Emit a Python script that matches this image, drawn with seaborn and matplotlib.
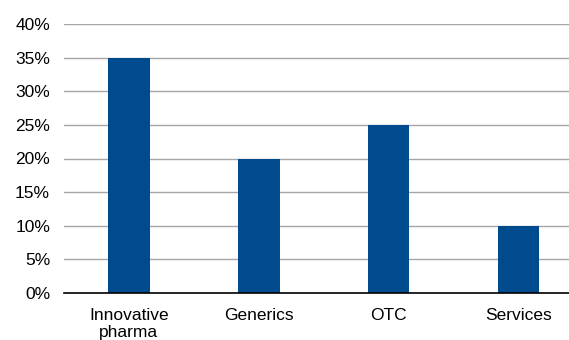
import matplotlib
matplotlib.use("Agg")
import matplotlib.pyplot as plt
import seaborn as sns
import pandas as pd
from matplotlib.ticker import PercentFormatter

categories = ["Innovative\npharma", "Generics", "OTC", "Services"]
values = [35, 20, 25, 10]
yticks = [0, 5, 10, 15, 20, 25, 30, 35, 40]

sns.set_theme(style="white")
plt.rcParams['font.family'] = ['Liberation Sans', 'DejaVu Sans']

df = pd.DataFrame({"cat": categories, "val": values})
fig = plt.figure(figsize=(5.69, 3.40), dpi=100)
ax = fig.add_axes([64/569, 1-293/340, 1-64/569, (293-24)/340])
sns.barplot(data=df, x="cat", y="val", color="#004B8D", saturation=1, width=0.32,
            ax=ax, zorder=3, edgecolor="#004B8D", linewidth=0)
ax.set_xlim(-0.5, 3.39)
ax.set_ylim(0, 40)
ax.set_yticks(yticks)
ax.yaxis.set_major_formatter(PercentFormatter(decimals=0))
ax.grid(axis="y", color="#a6a6a6", linewidth=1, zorder=0)
ax.set_axisbelow(True)
for s in ["top", "right", "left"]:
    ax.spines[s].set_visible(False)
ax.spines["bottom"].set_color("black")
ax.spines["bottom"].set_linewidth(1.2)
ax.spines["bottom"].set_zorder(4)
ax.set_xlabel("")
ax.set_ylabel("")
ax.tick_params(axis="y", labelsize=12.5, colors="black", length=0, pad=10)
ax.tick_params(axis="x", labelsize=12.5, colors="black", length=0, pad=11)
for lbl in ax.get_xticklabels():
    lbl.set_linespacing(1.15)
fig.savefig("out.png", dpi=100)
